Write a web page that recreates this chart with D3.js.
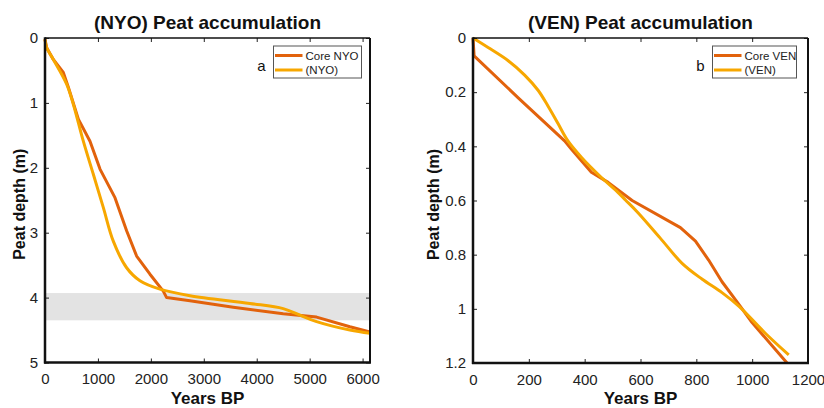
<!DOCTYPE html>
<html><head><meta charset="utf-8">
<script src="https://cdn.jsdelivr.net/npm/d3@7"></script>
<style>body{margin:0;background:#fff}svg{display:block}text{font-family:"Liberation Sans",Arial,sans-serif}</style>
</head><body><svg id="c" width="824" height="408"></svg>
<script>
// ---- data ----
const nyoCoreYears  = [0, 32, 157, 346, 441, 630, 850, 1039, 1322, 1542, 1731, 1983, 2234, 2298, 2738, 3556, 4500, 5131, 5760, 6138];
const nyoCoreDepth  = [0.02, 0.15, 0.33, 0.53, 0.76, 1.25, 1.59, 2.02, 2.46, 2.97, 3.36, 3.64, 3.90, 4.0, 4.05, 4.15, 4.25, 4.30, 4.45, 4.53];
const nyoModelYears = [0, 32, 157, 409, 535, 724, 913, 1101, 1290, 1542, 1794, 2172, 2738, 3871, 4500, 4816, 5131, 5760, 6138];
const nyoModelDepth = [0.02, 0.15, 0.33, 0.71, 1.02, 1.59, 2.10, 2.61, 3.13, 3.54, 3.74, 3.87, 3.97, 4.09, 4.17, 4.27, 4.37, 4.50, 4.55];
const nyoBand = [3.93, 4.35];
const venCoreYears  = [0, 4, 161, 328, 352, 424, 484, 570, 743, 797, 844, 892, 957, 999, 1125];
const venCoreDepth  = [0, 0.066, 0.22, 0.38, 0.41, 0.496, 0.533, 0.60, 0.70, 0.75, 0.82, 0.90, 0.99, 1.05, 1.20];
const venModelYears = [0, 54, 125, 185, 233, 269, 304, 340, 388, 460, 519, 546, 591, 670, 749, 820, 892, 952, 1047, 1131];
const venModelDepth = [0, 0.035, 0.083, 0.137, 0.193, 0.252, 0.315, 0.38, 0.44, 0.515, 0.57, 0.598, 0.645, 0.738, 0.832, 0.89, 0.94, 0.99, 1.09, 1.17];
const nyoXTicks = [0, 1000, 2000, 3000, 4000, 5000, 6000];
const nyoYTicks = [0, 1, 2, 3, 4, 5];
const venXTicks = [0, 200, 400, 600, 800, 1000, 1200];
const venYTicks = [0, 0.2, 0.4, 0.6, 0.8, 1, 1.2];

const coreColor = "#e2620c", modelColor = "#f7a700";
const svg = d3.select("#c");

function panel(o) {
  const g = svg.append("g");
  const x = d3.scaleLinear().domain(o.xDom).range([o.x0, o.x1]);
  const y = d3.scaleLinear().domain(o.yDom).range([o.y0, o.y1]);
  if (o.band) {
    g.append("rect").attr("x", o.x0).attr("width", o.x1 - o.x0)
      .attr("y", y(o.band[0])).attr("height", y(o.band[1]) - y(o.band[0]))
      .attr("fill", "#e3e3e3");
  }
  const line = (curve) => d3.line().x(d => x(d[0])).y(d => y(d[1])).curve(curve);
  const core = o.coreX.map((v, i) => [v, o.coreY[i]]);
  const model = o.modelX.map((v, i) => [v, o.modelY[i]]);
  g.append("path").attr("d", line(d3.curveLinear)(core)).attr("fill", "none")
    .attr("stroke", coreColor).attr("stroke-width", 3).attr("stroke-linejoin", "round");
  g.append("path").attr("d", line(d3.curveCatmullRom.alpha(0.5))(model)).attr("fill", "none")
    .attr("stroke", modelColor).attr("stroke-width", 3).attr("stroke-linejoin", "round");

  // axes
  const ax = g.append("g").attr("class", "axes");
  const bottom = d3.axisBottom(x).tickValues(o.xTicks).tickSize(-4).tickPadding(11).tickFormat(d3.format("d"));
  const left = d3.axisLeft(y).tickValues(o.yTicks).tickSize(-4).tickPadding(7).tickFormat(o.yFmt);
  const top = d3.axisTop(x).tickValues(o.xTicks).tickSize(-4).tickFormat("");
  const right = d3.axisRight(y).tickValues(o.yTicks).tickSize(-4).tickFormat("");
  const gb = ax.append("g").attr("transform", `translate(0,${o.y1})`).call(bottom);
  const gl = ax.append("g").attr("transform", `translate(${o.x0},0)`).call(left);
  const gt = ax.append("g").attr("transform", `translate(0,${o.y0})`).call(top);
  const gr = ax.append("g").attr("transform", `translate(${o.x1},0)`).call(right);
  [gb, gl, gt, gr].forEach(a => {
    a.select(".domain").remove();
    a.selectAll(".tick line").attr("stroke", "#222").attr("stroke-width", 1);
    a.selectAll(".tick text").attr("font-size", 15).attr("fill", "#222")
      .style("font-family", '"Liberation Sans",Arial,sans-serif');
  });
  // frame
  ax.append("line").attr("x1", o.x0).attr("x2", o.x1).attr("y1", o.y0).attr("y2", o.y0).attr("stroke", "#111").attr("stroke-width", 1.5);
  ax.append("line").attr("x1", o.x1).attr("x2", o.x1).attr("y1", o.y0).attr("y2", o.y1).attr("stroke", "#111").attr("stroke-width", 2);
  ax.append("line").attr("x1", o.x0).attr("x2", o.x0).attr("y1", o.y0 - 0.75).attr("y2", o.y1 + 1).attr("stroke", "#111").attr("stroke-width", 2.5);
  ax.append("line").attr("x1", o.x0 - 1).attr("x2", o.x1 + 1).attr("y1", o.y1).attr("y2", o.y1).attr("stroke", "#111").attr("stroke-width", 2.5);

  // title and labels
  const cx = (o.x0 + o.x1) / 2;
  g.append("text").attr("x", cx).attr("y", 29).attr("text-anchor", "middle")
    .attr("font-size", 19).attr("font-weight", "bold").attr("fill", "#111").text(o.title);
  g.append("text").attr("x", cx).attr("y", 404).attr("text-anchor", "middle")
    .attr("font-size", 17).attr("font-weight", "bold").attr("fill", "#111").text("Years BP");
  g.append("text").attr("transform", `translate(${o.ylabX},${(o.y0 + o.y1) / 2 + 4}) rotate(-90)`)
    .attr("text-anchor", "middle").attr("font-size", 16).attr("font-weight", "bold").attr("fill", "#111")
    .text("Peat depth (m)");

  // legend
  const L = o.legend;
  g.append("rect").attr("x", L.x).attr("y", 46).attr("width", L.w).attr("height", 32)
    .attr("fill", "#fff").attr("stroke", "#555").attr("stroke-width", 1);
  [[coreColor, L.labels[0], 55.5], [modelColor, L.labels[1], 70]].forEach(([c, t, yy]) => {
    g.append("line").attr("x1", L.x + 1.5).attr("x2", L.x + 29).attr("y1", yy).attr("y2", yy)
      .attr("stroke", c).attr("stroke-width", 3);
    g.append("text").attr("x", L.x + 32).attr("y", yy + 4).attr("font-size", 11.5).attr("fill", "#222").text(t);
  });
  g.append("text").attr("x", L.x - 12).attr("y", 71).attr("text-anchor", "middle")
    .attr("font-size", 15).attr("fill", "#111").text(o.letter);
}

panel({
  xDom: [0, 6140], yDom: [0, 5], x0: 45, x1: 370, y0: 38, y1: 362.5,
  xTicks: nyoXTicks, yTicks: nyoYTicks, yFmt: d3.format("d"),
  coreX: nyoCoreYears, coreY: nyoCoreDepth, modelX: nyoModelYears, modelY: nyoModelDepth,
  band: nyoBand, title: "(NYO) Peat accumulation", ylabX: 25,
  legend: { x: 273.5, w: 88, labels: ["Core NYO", "(NYO)"] }, letter: "a"
});
panel({
  xDom: [0, 1200], yDom: [0, 1.2], x0: 473, x1: 808, y0: 38, y1: 363,
  xTicks: venXTicks, yTicks: venYTicks, yFmt: d => d === 0 ? "0" : (d === 1 ? "1" : d3.format(".1f")(d)),
  coreX: venCoreYears, coreY: venCoreDepth, modelX: venModelYears, modelY: venModelDepth,
  band: null, title: "(VEN) Peat accumulation", ylabX: 439,
  legend: { x: 712.5, w: 84, labels: ["Core VEN", "(VEN)"] }, letter: "b"
});
</script></body></html>
